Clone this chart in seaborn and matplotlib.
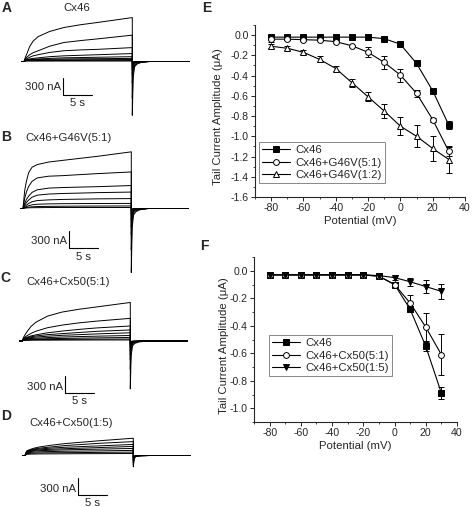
import numpy as np
import pandas as pd
import matplotlib
matplotlib.use("Agg")
import matplotlib.pyplot as plt
from matplotlib.lines import Line2D
from matplotlib.ticker import MultipleLocator
import seaborn as sns

sns.set_style("ticks")
plt.rcParams["font.family"] = ["Liberation Sans", "DejaVu Sans"]
plt.rcParams["axes.unicode_minus"] = False

W, H, DPI = 472, 507, 100

# ---------------- data: tail current amplitudes (uA) ----------------
potential = [-80, -70, -60, -50, -40, -30, -20, -10, 0, 10, 20, 30]

e_labels = ["Cx46", "Cx46+G46V(5:1)", "Cx46+G46V(1:2)"]
e_cx46 = [-0.02, -0.02, -0.02, -0.02, -0.02, -0.02, -0.02, -0.035, -0.09, -0.28, -0.55, -0.89]
e_cx46_err = [0.01, 0.01, 0.01, 0.01, 0.01, 0.01, 0.01, 0.01, 0.01, 0.01, 0.02, 0.04]
e_g46v_51 = [-0.04, -0.04, -0.045, -0.05, -0.065, -0.105, -0.17, -0.27, -0.395, -0.575, -0.835, -1.15]
e_g46v_51_err = [0.03, 0.01, 0.01, 0.01, 0.01, 0.01, 0.05, 0.065, 0.065, 0.035, 0.02, 0.04]
e_g46v_12 = [-0.11, -0.13, -0.17, -0.24, -0.33, -0.47, -0.61, -0.75, -0.90, -1.00, -1.12, -1.23]
e_g46v_12_err = [0.02, 0.02, 0.02, 0.03, 0.02, 0.04, 0.045, 0.07, 0.09, 0.11, 0.12, 0.13]

f_labels = ["Cx46", "Cx46+Cx50(5:1)", "Cx46+Cx50(1:5)"]
f_cx46 = [-0.03, -0.03, -0.03, -0.03, -0.03, -0.03, -0.03, -0.04, -0.10, -0.28, -0.55, -0.89]
f_cx46_err = [0.01, 0.01, 0.01, 0.01, 0.01, 0.01, 0.01, 0.01, 0.02, 0.02, 0.03, 0.045]
f_cx50_51 = [-0.03, -0.03, -0.03, -0.03, -0.03, -0.03, -0.03, -0.04, -0.10, -0.235, -0.41, -0.61]
f_cx50_51_err = [0.01, 0.01, 0.015, 0.01, 0.01, 0.01, 0.01, 0.01, 0.02, 0.06, 0.10, 0.15]
f_cx50_15 = [-0.03, -0.03, -0.03, -0.03, -0.03, -0.03, -0.03, -0.035, -0.05, -0.08, -0.115, -0.15]
f_cx50_15_err = [0.01, 0.01, 0.01, 0.01, 0.01, 0.01, 0.01, 0.01, 0.02, 0.03, 0.05, 0.055]

# ---------------- data: current traces (nA) ----------------
trace_time = [0, 0.3, 0.6, 1, 1.6, 2.5, 4.5, 7, 10, 13, 19]   # s during the pulse
tail_time = [0, 0.15, 0.4, 0.8, 1.5, 3.0]                      # s after the pulse
tail_frac = [1.0, 0.3, 0.1, 0.05, 0.02, 0.0]
pre_time, post_time = -0.4, 10.0

a_title = "Cx46"
a_traces = [
    [0, 90, 160, 265, 360, 440, 530, 600, 650, 690, 775],
    [0, 60, 85, 120, 155, 190, 270, 335, 370, 400, 465],
    [0, 40, 55, 75, 100, 120, 160, 190, 205, 215, 245],
    [0, 30, 38, 45, 55, 65, 85, 100, 110, 120, 140],
    [0, 25, 30, 35, 40, 45, 55, 65, 70, 75, 85],
    [0, 20, 24, 28, 32, 35, 40, 45, 48, 50, 55],
    [0, 15, 18, 20, 22, 25, 28, 30, 31, 32, 35],
    [0, 12, 13, 14, 15, 15, 17, 18, 19, 20, 20],
    [0, 10, 10, 9, 8, 8, 8, 8, 8, 8, 8],
]
a_tails = [950, 650, 380, 230, 150, 100, 60, 35, 15]

b_title = "Cx46+G46V(5:1)"
b_traces = [
    [0, 320, 480, 635, 730, 775, 820, 850, 885, 920, 1000],
    [0, 180, 290, 390, 480, 540, 570, 580, 598, 615, 645],
    [0, 90, 160, 220, 285, 330, 360, 370, 378, 385, 405],
    [0, 60, 105, 150, 200, 235, 255, 265, 272, 280, 290],
    [0, 35, 60, 90, 120, 140, 152, 160, 165, 170, 175],
    [0, 20, 35, 50, 65, 75, 82, 85, 87, 88, 90],
    [0, 10, 18, 25, 30, 35, 38, 40, 42, 43, 45],
    [0, 8, 10, 12, 14, 15, 17, 18, 18, 18, 18],
]
b_tails = [1130, 730, 460, 330, 200, 100, 50, 20]

c_title = "Cx46+Cx50(5:1)"
c_traces = [
    [0, 70, 120, 180, 260, 335, 440, 510, 560, 600, 680],
    [0, 50, 75, 100, 135, 175, 235, 280, 320, 350, 400],
    [0, 40, 55, 70, 90, 110, 145, 175, 205, 230, 265],
    [0, 35, 48, 60, 75, 90, 112, 130, 150, 170, 195],
    [0, 30, 40, 50, 60, 70, 85, 100, 112, 125, 145],
    [0, 25, 32, 40, 45, 50, 60, 70, 78, 85, 97],
    [0, 20, 24, 28, 32, 35, 40, 45, 50, 55, 62],
    [0, 15, 18, 20, 22, 25, 27, 28, 30, 32, 35],
    [0, 10, 11, 12, 14, 15, 15, 16, 17, 18, 18],
]
c_tails = [845, 500, 330, 240, 180, 120, 80, 45, 20]

d_title = "Cx46+Cx50(1:5)"
d_traces = [
    [0, 80, 95, 110, 130, 150, 180, 210, 235, 260, 305],
    [0, 70, 85, 100, 115, 130, 150, 175, 195, 215, 245],
    [0, 65, 78, 90, 102, 115, 130, 145, 158, 170, 195],
    [0, 60, 70, 80, 90, 100, 110, 120, 130, 140, 160],
    [0, 50, 60, 70, 78, 85, 92, 100, 106, 112, 125],
    [0, 40, 48, 55, 60, 65, 70, 75, 78, 82, 90],
    [0, 30, 35, 40, 42, 45, 48, 50, 52, 55, 60],
    [0, 20, 22, 25, 26, 28, 29, 30, 32, 33, 35],
]
d_tails = [200, 160, 130, 105, 85, 60, 40, 25]

scale_na, scale_s = 300, 5

# ---------------- figure ----------------
fig = plt.figure(figsize=(W / DPI, H / DPI), dpi=DPI)
fig.patch.set_facecolor("white")

PX_PER_S = 28.5 / 5
PX_PER_NA = 17 / 300
TXT = 8.2


def fx(x):
    return x / W


def fy(y):
    return 1 - y / H


def fig_line(xs, ys, lw=0.8):
    fig.add_artist(Line2D([fx(v) for v in xs], [fy(v) for v in ys],
                          transform=fig.transFigure, color="black", lw=lw))


def trace_panel(traces, tails, t0_px, base_px, title, title_xy, letter, letter_xy,
                bar_xy, bar_text_dy):
    ax = fig.add_axes([0, 0, 200 / W, 1])
    ax.set_xlim(-t0_px / PX_PER_S, (200 - t0_px) / PX_PER_S)
    ax.set_ylim((base_px - H) / PX_PER_NA, base_px / PX_PER_NA)
    ax.axis("off")
    t_end = trace_time[-1]
    for tr, tail in zip(traces, tails):
        xs = [pre_time] + list(trace_time) + [t_end + t for t in tail_time] + [t_end + post_time]
        ys = [0] + list(tr) + [-tail * f for f in tail_frac] + [0]
        sns.lineplot(x=xs, y=ys, ax=ax, color="black", lw=0.7, sort=False,
                     estimator=None, legend=False)
    ax.set_xlabel("")
    ax.set_ylabel("")
    fig.text(fx(title_xy[0]), fy(title_xy[1]), title, fontsize=TXT,
             ha="left", va="center")
    fig.text(fx(letter_xy[0]), fy(letter_xy[1]), letter, fontsize=10,
             fontweight="bold", ha="center", va="center")
    bx, by = bar_xy
    vlen = scale_na * PX_PER_NA
    hlen = scale_s * PX_PER_S
    fig_line([bx, bx, bx + hlen], [by - vlen, by, by])
    fig.text(fx(bx - 2), fy(by - vlen / 2 + bar_text_dy), f"{scale_na} nA",
             fontsize=TXT, ha="right", va="center")
    fig.text(fx(bx + hlen / 2), fy(by + 8.5), f"{scale_s} s", fontsize=TXT,
             ha="center", va="center")


trace_panel(a_traces, a_tails, 24, 61.5, a_title, (63, 8), "A", (7, 8), (63, 95), 0)
trace_panel(b_traces, b_tails, 23, 208.5, b_title, (25, 138), "B", (6, 137.5), (69, 248), 2)
trace_panel(c_traces, c_tails, 22, 341, c_title, (26, 282), "C", (5, 278.5), (65, 393), 2)
trace_panel(d_traces, d_tails, 25, 455.5, d_title, (29, 423), "D", (6, 416.5), (78, 495), 2)


def iv_panel(rect_px, series, labels, markers, fills, ylim, yticks_major, ylabel_x,
             legend_xy, letter, letter_xy):
    l, r, t, b = rect_px
    ax = fig.add_axes([fx(l), fy(b), (r - l) / W, (b - t) / H])
    for (vals, errs), lab, mk, fc in zip(series, labels, markers, fills):
        ax.errorbar(potential, vals, yerr=errs, fmt="none", ecolor="black",
                    elinewidth=0.7, capsize=2.0, capthick=0.7, zorder=2)
        sns.lineplot(x=potential, y=vals, ax=ax, color="black", lw=0.8,
                     marker=mk, markersize=4.2, markerfacecolor=fc,
                     markeredgecolor="black", markeredgewidth=0.7,
                     label=lab, zorder=3, estimator=None)
    ax.set_xlim(-90, 40)
    ax.set_ylim(*ylim)
    ax.xaxis.set_major_locator(MultipleLocator(20))
    ax.xaxis.set_minor_locator(MultipleLocator(10))
    ax.set_yticks(yticks_major)
    ax.set_yticklabels([f"{v:.1f}" for v in yticks_major])
    ax.yaxis.set_minor_locator(MultipleLocator(0.1))
    ax.tick_params(which="major", direction="out", length=3, width=0.7,
                   labelsize=7.6, pad=1.5)
    ax.tick_params(which="minor", direction="out", length=1.7, width=0.6)
    for s in ["left", "bottom"]:
        ax.spines[s].set_linewidth(0.8)
    sns.despine(ax=ax)
    ax.set_xlabel("Potential (mV)", fontsize=TXT, labelpad=2)
    ax.set_ylabel("")
    fig.text(fx(ylabel_x), fy((t + b) / 2 + 6), "Tail Current Amplitude (\u03bcA)",
             rotation=90, fontsize=TXT, ha="center", va="center")
    leg = ax.legend(loc="upper left", bbox_to_anchor=(fx(legend_xy[0]), fy(legend_xy[1])),
                    bbox_transform=fig.transFigure, fontsize=TXT, frameon=True,
                    fancybox=False, edgecolor="#888888", framealpha=1,
                    handlelength=2.4, handletextpad=0.5, labelspacing=0.2,
                    borderpad=0.3, borderaxespad=0)
    leg.get_frame().set_linewidth(0.7)
    fig.text(fx(letter_xy[0]), fy(letter_xy[1]), letter, fontsize=10,
             fontweight="bold", ha="center", va="center")
    return ax


iv_panel((255, 465, 25, 197),
         [(e_cx46, e_cx46_err), (e_g46v_51, e_g46v_51_err), (e_g46v_12, e_g46v_12_err)],
         e_labels, ["s", "o", "^"], ["black", "white", "white"],
         (-1.6, 0.1), [0.0, -0.2, -0.4, -0.6, -0.8, -1.0, -1.2, -1.4, -1.6],
         218, (259, 142), "E", (207, 8))

iv_panel((254, 457, 257, 422),
         [(f_cx46, f_cx46_err), (f_cx50_51, f_cx50_51_err), (f_cx50_15, f_cx50_15_err)],
         f_labels, ["s", "o", "v"], ["black", "white", "black"],
         (-1.1, 0.1), [0.0, -0.2, -0.4, -0.6, -0.8, -1.0],
         224, (269, 335), "F", (204, 246))

fig.savefig("out.png", dpi=DPI, facecolor="white")
